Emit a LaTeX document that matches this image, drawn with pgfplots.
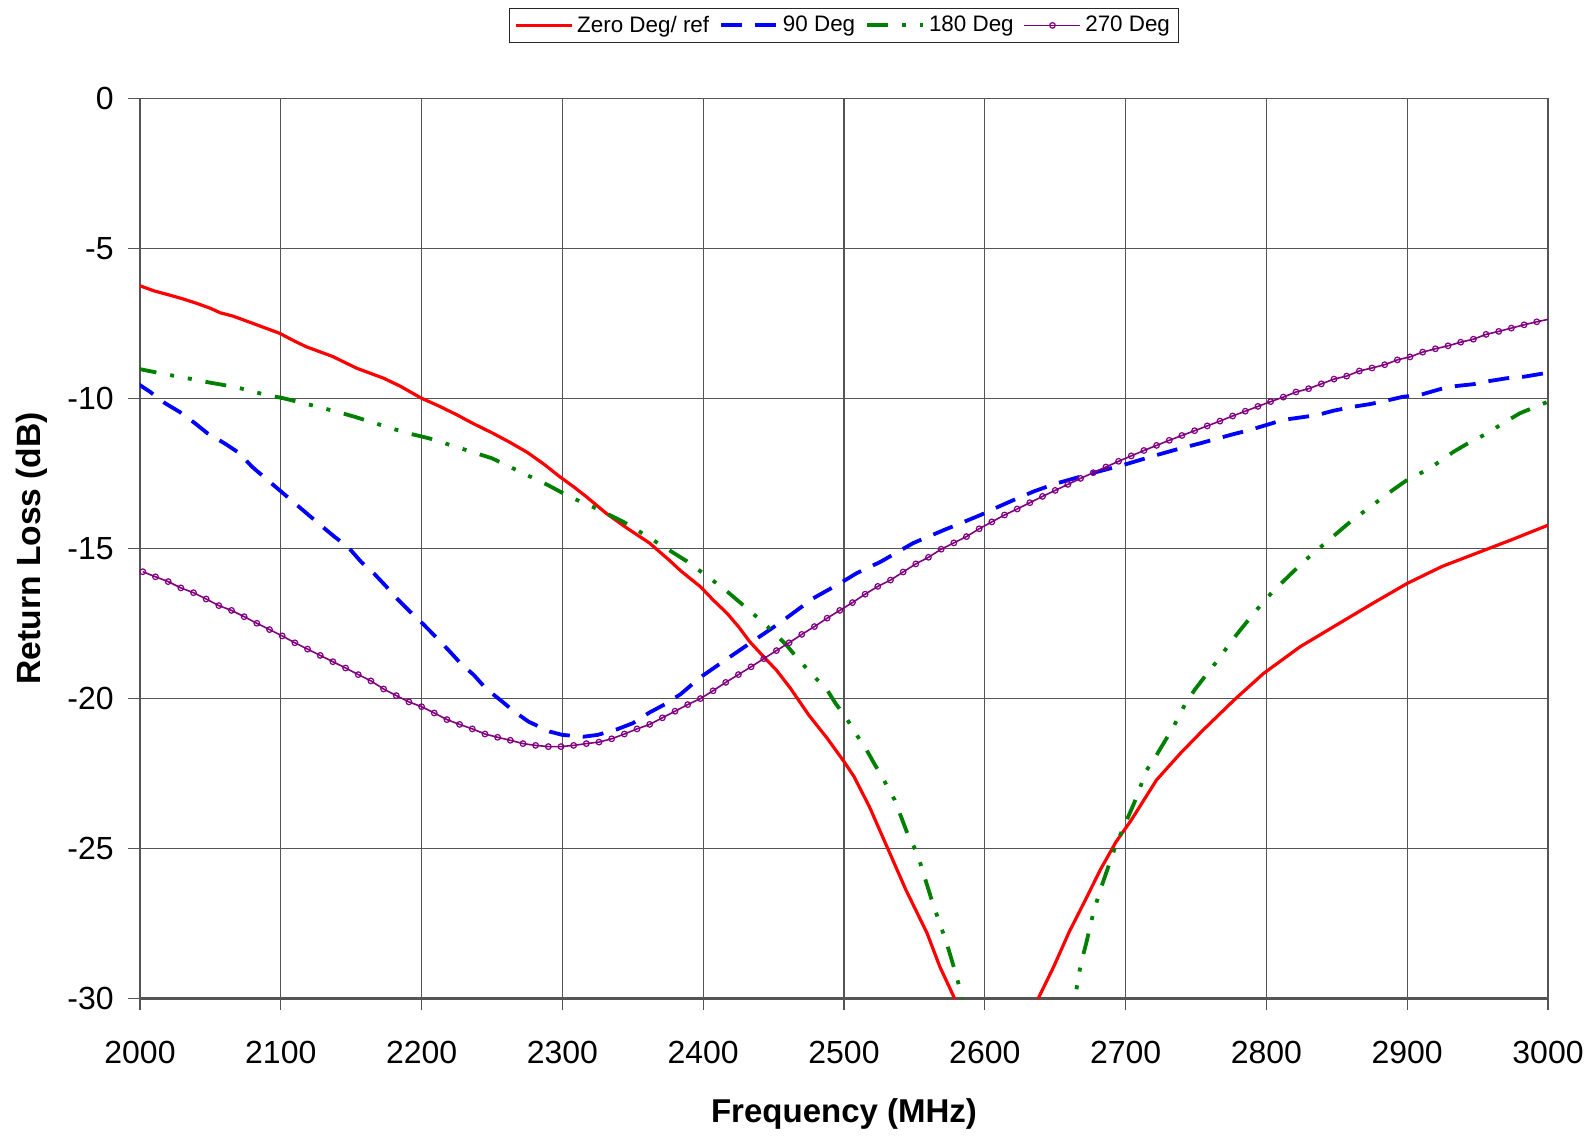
\documentclass[border=0pt]{standalone}
\usepackage{pgfplots}
\pgfplotsset{compat=1.18}
\usepackage{pgfplotstable}
\usepackage{fontspec}
\setmainfont{Liberation Sans}

\definecolor{rlred}{RGB}{255,0,0}
\definecolor{rlblue}{RGB}{0,0,255}
\definecolor{rlgreen}{RGB}{0,128,0}
\definecolor{rlpurple}{RGB}{128,0,128}
\definecolor{gridgray}{RGB}{85,85,85}

% Return loss (dB) versus frequency (MHz) for four orientations
\pgfplotstableread{
f rl
2000 -6.25
2010 -6.42
2021 -6.56
2030 -6.68
2040 -6.83
2050 -7.00
2057 -7.15
2066 -7.26
2080 -7.50
2099 -7.83
2110 -8.10
2118 -8.28
2137 -8.61
2154 -9.00
2173 -9.33
2185 -9.60
2200 -10.00
2212 -10.25
2225 -10.55
2237 -10.85
2250 -11.15
2262 -11.45
2275 -11.80
2287 -12.20
2298 -12.61
2308 -12.95
2317 -13.28
2331 -13.83
2345 -14.30
2362 -14.83
2376 -15.40
2384 -15.75
2398 -16.28
2407 -16.72
2417 -17.17
2425 -17.61
2433 -18.11
2444 -18.67
2452 -19.06
2462 -19.67
2475 -20.56
2488 -21.33
2500 -22.11
2507 -22.60
2518 -23.61
2531 -25.00
2544 -26.39
2559 -27.83
2568 -28.94
2578 -29.95
2590 -31.60
2605 -35.00
2620 -33.50
2630 -31.20
2638 -30.00
2649 -28.94
2660 -27.78
2672 -26.67
2682 -25.72
2693 -24.80
2704 -24.06
2722 -22.72
2739 -21.83
2755 -21.06
2777 -20.06
2798 -19.17
2824 -18.28
2850 -17.55
2875 -16.85
2900 -16.17
2925 -15.60
2950 -15.15
2975 -14.70
3000 -14.23
}\zerodeg

\pgfplotstableread{
f rl
1997 -9.47
2007 -9.78
2018 -10.17
2028 -10.45
2039 -10.83
2048 -11.17
2060 -11.50
2070 -11.81
2080 -12.30
2090 -12.70
2100 -13.10
2110 -13.50
2120 -13.90
2128 -14.22
2138 -14.61
2148 -14.97
2157 -15.45
2166 -15.83
2175 -16.28
2183 -16.70
2193 -17.17
2201 -17.52
2211 -18.00
2219 -18.39
2228 -18.85
2237 -19.22
2246 -19.69
2256 -20.06
2266 -20.45
2276 -20.78
2291 -21.11
2300 -21.22
2315 -21.28
2325 -21.22
2339 -21.03
2350 -20.83
2362 -20.47
2374 -20.17
2384 -19.86
2398 -19.30
2414 -18.78
2433 -18.17
2454 -17.50
2478 -16.67
2497 -16.17
2509 -15.83
2526 -15.45
2549 -14.83
2571 -14.39
2580 -14.22
2597 -13.89
2607 -13.67
2620 -13.40
2635 -13.10
2650 -12.85
2665 -12.65
2680 -12.45
2700 -12.20
2720 -11.92
2735 -11.72
2753 -11.50
2777 -11.19
2788 -11.06
2812 -10.72
2836 -10.56
2848 -10.41
2862 -10.28
2874 -10.19
2885 -10.08
2897 -9.95
2909 -9.89
2923 -9.70
2935 -9.59
2947 -9.53
2959 -9.42
2971 -9.33
2983 -9.28
2997 -9.17
3001 -9.15
}\ninetydeg

\pgfplotstableread{
f rl
1997 -9.00
2017 -9.19
2038 -9.37
2050 -9.48
2066 -9.61
2076 -9.72
2088 -9.87
2102 -10.00
2121 -10.22
2140 -10.45
2152 -10.61
2171 -10.89
2189 -11.15
2205 -11.33
2230 -11.70
2250 -12.00
2270 -12.45
2290 -12.90
2305 -13.28
2324 -13.67
2343 -14.11
2355 -14.45
2372 -14.95
2388 -15.42
2399 -15.80
2415 -16.36
2431 -17.00
2442 -17.45
2452 -17.89
2459 -18.22
2468 -18.72
2477 -19.19
2488 -19.72
2494 -20.17
2501 -20.61
2509 -21.22
2516 -21.72
2522 -22.22
2528 -22.70
2536 -23.39
2545 -24.50
2552 -25.17
2563 -26.83
2573 -28.17
2580 -29.28
2584 -30.00
2595 -32.50
2610 -36.00
2630 -36.00
2650 -33.00
2664 -30.00
2668 -28.90
2672 -28.17
2677 -27.17
2682 -26.39
2693 -24.90
2706 -23.50
2715 -22.39
2722 -21.89
2734 -20.95
2742 -20.22
2749 -19.72
2758 -19.17
2766 -18.70
2774 -18.17
2781 -17.75
2791 -17.17
2800 -16.67
2807 -16.33
2819 -15.78
2830 -15.30
2840 -14.90
2850 -14.50
2860 -14.10
2870 -13.75
2880 -13.40
2890 -13.05
2900 -12.72
2914 -12.39
2923 -12.11
2933 -11.78
2945 -11.45
2957 -11.17
2968 -10.83
2980 -10.50
2997 -10.17
3001 -10.10
}\oneeightydeg

\pgfplotstableread{
f rl
2002 -15.78
2011 -15.95
2020 -16.11
2029 -16.32
2038 -16.48
2047 -16.69
2056 -16.91
2065 -17.07
2074 -17.28
2083 -17.50
2092 -17.71
2101 -17.92
2110 -18.15
2119 -18.36
2128 -18.57
2137 -18.78
2146 -18.99
2155 -19.21
2164 -19.42
2173 -19.69
2182 -19.91
2191 -20.12
2200 -20.28
2209 -20.49
2218 -20.71
2227 -20.87
2236 -21.02
2245 -21.19
2254 -21.30
2263 -21.40
2272 -21.51
2281 -21.57
2290 -21.61
2299 -21.61
2308 -21.57
2317 -21.51
2326 -21.46
2335 -21.35
2344 -21.19
2353 -21.02
2362 -20.87
2371 -20.65
2380 -20.43
2389 -20.21
2398 -20.01
2407 -19.75
2416 -19.47
2425 -19.21
2434 -18.95
2443 -18.68
2452 -18.41
2461 -18.15
2470 -17.87
2479 -17.61
2488 -17.33
2497 -17.07
2506 -16.81
2515 -16.53
2524 -16.27
2533 -16.06
2542 -15.79
2551 -15.52
2560 -15.30
2569 -15.03
2578 -14.82
2587 -14.61
2596 -14.35
2605 -14.12
2614 -13.89
2623 -13.69
2632 -13.48
2641 -13.27
2650 -13.07
2659 -12.87
2668 -12.67
2677 -12.48
2686 -12.29
2695 -12.10
2704 -11.92
2713 -11.74
2722 -11.57
2731 -11.40
2740 -11.24
2749 -11.08
2758 -10.92
2767 -10.76
2776 -10.59
2785 -10.43
2794 -10.27
2803 -10.11
2812 -9.96
2821 -9.79
2830 -9.68
2839 -9.52
2848 -9.36
2857 -9.26
2866 -9.09
2875 -8.99
2884 -8.88
2893 -8.72
2902 -8.62
2911 -8.46
2920 -8.35
2929 -8.25
2938 -8.13
2947 -8.03
2956 -7.87
2965 -7.77
2974 -7.66
2983 -7.55
2992 -7.45
3001 -7.36
}\twoseventydeg

\begin{document}
\begin{tikzpicture}
\useasboundingbox (-70pt,-68.85pt) rectangle (728pt,499.15pt);
\begin{axis}[
  at={(0pt,0pt)}, anchor=south west,
  width=704pt, height=450pt, scale only axis,
  xmin=2000, xmax=3000, ymin=-30, ymax=0,
  xtick={2000,2100,...,3000},
  ytick={-30,-25,...,0},
  xticklabels={2000,2100,2200,2300,2400,2500,2600,2700,2800,2900,3000},
  yticklabels={-30,-25,-20,-15,-10,-5,0},
  grid=major,
  major grid style={gridgray, line width=0.6pt},
  axis lines*=left,
  axis line style={-, gridgray, line width=1.4pt},
  tick align=outside,
  major tick length=6pt,
  tick style={gridgray, line width=0.6pt},
  tick label style={font=\fontsize{16}{19}\selectfont},
  xticklabel style={anchor=center, yshift=-20.85pt},
  yticklabel style={anchor=east, inner sep=0pt, xshift=-7pt},
  xlabel={Frequency (MHz)},
  ylabel={Return Loss (dB)},
  xlabel style={font=\fontsize{16.5}{20}\selectfont\bfseries,
    at={(axis description cs:0.5,-0.1286)}, anchor=center},
  ylabel style={font=\fontsize{16.8}{20}\selectfont\bfseries,
    at={(axis description cs:-0.077,0.5)}, anchor=center},
  legend columns=4,
  legend style={at={(axis description cs:0.5,1.081)}, anchor=center,
    draw=black!85, line width=0.5pt,
    font=\fontsize{11.2}{13}\selectfont,
    inner xsep=2.5pt, inner ysep=1.8pt,
    /tikz/every even column/.append style={column sep=3pt}},
  legend image code/.code={%
    \draw[mark repeat=2,mark phase=2,#1]
      plot coordinates {(0pt,0pt) (14pt,0pt) (28pt,0pt)};},
]
\addplot[rlred, line width=1.6pt] table[x=f,y=rl]{\zerodeg};
\addlegendentry{Zero Deg/ ref}
\addplot[rlblue, line width=1.9pt, dash pattern=on 10.5pt off 6.5pt]
  table[x=f,y=rl]{\ninetydeg};
\addlegendentry{90 Deg}
\addplot[rlgreen, line width=1.9pt,
  dash pattern=on 10.5pt off 7pt on 2pt off 7pt on 2pt off 7pt]
  table[x=f,y=rl]{\oneeightydeg};
\addlegendentry{180 Deg}
\addplot[rlpurple, line width=0.8pt, forget plot] table[x=f,y=rl]{\twoseventydeg};
\addplot[rlpurple, only marks, mark=o, mark size=1.4pt,
  mark options={fill=white, line width=0.6pt},
  restrict x to domain=2000:3000, forget plot]
  table[x=f,y=rl]{\twoseventydeg};
\addlegendimage{rlpurple, line width=0.8pt, mark=o, mark size=1.4pt,
  mark options={fill=white, line width=0.6pt}}
\addlegendentry{270 Deg}
\end{axis}
\end{tikzpicture}
\end{document}
